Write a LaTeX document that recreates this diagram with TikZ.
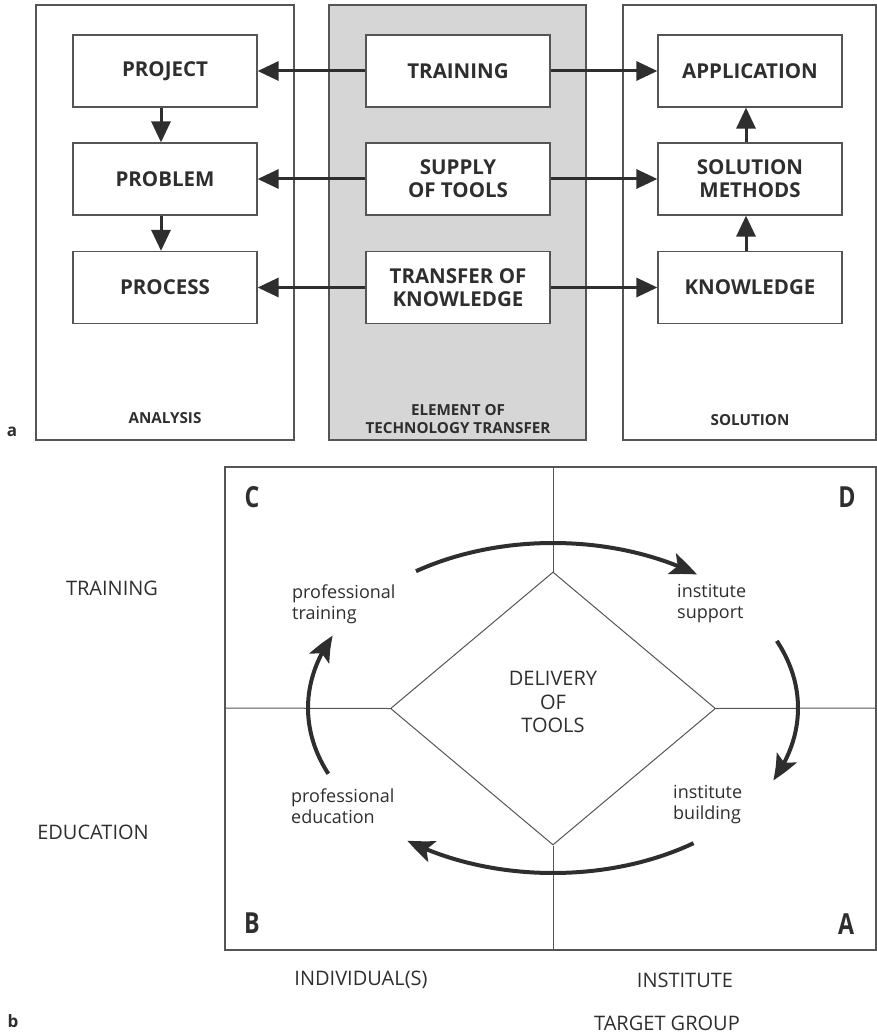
\documentclass[tikz,border=0pt]{standalone}
\usepackage{fontspec}
\setmainfont{Open Sans}
\newfontfamily\condbf{Open Sans}[FakeStretch=0.8]
\usetikzlibrary{arrows.meta,bending,calc,shapes.geometric}
\definecolor{ink}{HTML}{2E2E2E}
\definecolor{rule}{HTML}{555555}
\definecolor{panelgray}{HTML}{D6D6D6}

\begin{document}
\begin{tikzpicture}[x=1pt,y=-1pt,
  panel/.style={draw=rule, line width=1.2pt},
  box/.style={draw=rule, fill=white, line width=1.2pt, minimum width=184pt,
    minimum height=72pt, align=center, inner sep=0pt, text=ink,
    font=\fontsize{20.5}{23}\selectfont\bfseries},
  plabel/.style={align=center, text=ink, inner sep=0pt,
    font=\fontsize{15.2}{18}\selectfont\bfseries},
  link/.style={draw=ink, line width=3pt, -{Triangle[length=21pt,width=19pt]}},
  divider/.style={draw=rule, line width=1pt},
  cycle/.style={draw=ink, line width=4pt, -{Stealth[length=27pt,width=22pt,inset=6pt,bend]}},
  corner/.style={text=ink, inner sep=0pt, font=\fontsize{29}{30}\selectfont\condbf\bfseries},
  quad/.style={anchor=west, align=left, text=ink, inner sep=0pt,
    font=\fontsize{18}{21}\selectfont},
  axis/.style={text=ink, inner sep=0pt, font=\fontsize{20}{23}\selectfont},
  tag/.style={text=ink, inner sep=0pt, font=\fontsize{17}{20}\selectfont\bfseries}
]
\useasboundingbox (0,0) rectangle (877,1035);

% ---------- part a: three panels ----------
\draw[panel] (36,5) rectangle (294,440);
\draw[panel, fill=panelgray] (329,5) rectangle (586,440);
\draw[panel] (623,5) rectangle (876,440);

\node[plabel] (lana) at (165,418) {ANALYSIS};
\node[plabel] (lele) at (458,419) {ELEMENT OF\\TECHNOLOGY TRANSFER};
\node[plabel] (lsol) at (750,420) {SOLUTION};

\node[box] (pj) at (165,71)   {PROJECT};
\node[box] (pb) at (165,179)  {PROBLEM};
\node[box] (pc) at (165,287.5){PROCESS};

\node[box] (tr) at (458,71)   {TRAINING};
\node[box] (st) at (458,179)  {SUPPLY\\OF TOOLS};
\node[box] (tk) at (458,287.5){TRANSFER OF\\KNOWLEDGE};

\node[box] (ap) at (750,71)   {APPLICATION};
\node[box] (sm) at (750,179)  {SOLUTION\\METHODS};
\node[box] (kn) at (750,287.5){KNOWLEDGE};

\draw[link] (tr.west) -- (pj.east);
\draw[link] (st.west) -- (pb.east);
\draw[link] (tk.west) -- (pc.east);
\draw[link] (tr.east) -- (ap.west);
\draw[link] (st.east) -- (sm.west);
\draw[link] (tk.east) -- (kn.west);

\draw[link] ([xshift=-4pt]pj.south) -- ([xshift=-4pt]pb.north);
\draw[link] ([xshift=-4pt]pb.south) -- ([xshift=-4pt]pc.north);
\draw[link] ([xshift=-4pt]kn.north) -- ([xshift=-4pt]sm.south);
\draw[link] ([xshift=-4pt]sm.north) -- ([xshift=-4pt]ap.south);

\node[tag] (ta) at (12,432) {a};

% ---------- part b: target group matrix ----------
\draw[draw=rule, line width=2pt] (225,467) rectangle (876,950);
\coordinate (topmid) at (553,467);
\coordinate (botmid) at (553,950);
\coordinate (leftmid) at (225,708);
\coordinate (rightmid) at (876,708);

\node[draw=rule, line width=1pt, diamond, aspect=1.19, inner sep=0pt,
  minimum width=325pt, minimum height=273pt] (dm) at (553,708.5) {};
\node[axis, align=center, font=\fontsize{20}{23.5}\selectfont] (dtext) at (553,702)
  {DELIVERY\\OF\\TOOLS};

\draw[divider] (topmid) -- (dm.north);
\draw[divider] (dm.south) -- (botmid);
\draw[divider] (leftmid) -- (dm.west);
\draw[divider] (dm.east) -- (rightmid);

% cycle of arrows around the diamond
\coordinate (ctr) at (553,708);
\draw[cycle] ($(ctr)+(-124:245 and 165)$) arc[start angle=-124, end angle=-54, x radius=245, y radius=165];
\draw[cycle] ($(ctr)+(-24:245 and 165)$) arc[start angle=-24, end angle=26, x radius=245, y radius=165];
\draw[cycle] ($(ctr)+(55:245 and 165)$) arc[start angle=55, end angle=126.5, x radius=245, y radius=165];
\draw[cycle] ($(ctr)+(156.5:245 and 165)$) arc[start angle=156.5, end angle=206, x radius=245, y radius=165];

\node[corner] (qc) at (252,497) {C};
\node[corner] (qd) at (847,497) {D};
\node[corner] (qb) at (252,923) {B};
\node[corner] (qa) at (846,924) {A};

\node[quad] (ptr) at (292,604) {professional\\training};
\node[quad] (isu) at (677,604) {institute\\support};
\node[quad] (ped) at (291,806) {professional\\education};
\node[quad] (ibu) at (673,805) {institute\\building};

\node[axis] (atr) at (112,588) {TRAINING};
\node[axis] (aed) at (93,832)  {EDUCATION};
\node[axis] (aind) at (361,980) {INDIVIDUAL(S)};
\node[axis] (ains) at (685,980) {INSTITUTE};
\node[axis] (atg) at (667,1023) {TARGET GROUP};

\node[tag] (tb) at (13,1021) {b};
\end{tikzpicture}
\end{document}
